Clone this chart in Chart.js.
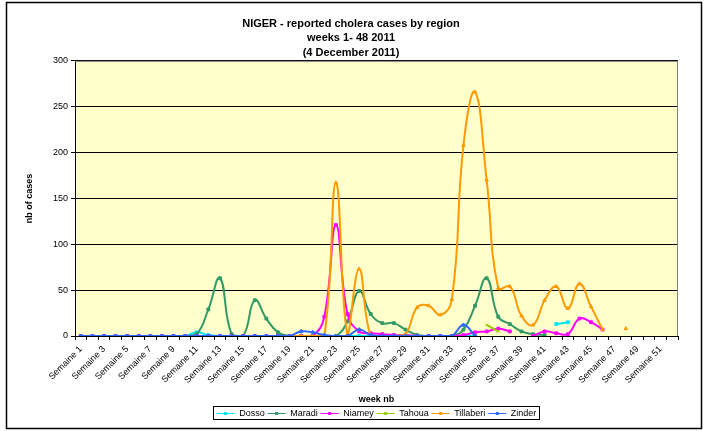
<!DOCTYPE html>
<html>
<head>
<meta charset="utf-8">
<title>NIGER - reported cholera cases by region</title>
<script src="https://cdn.jsdelivr.net/npm/chart.js@4.4.1/dist/chart.umd.min.js"></script>
<style>
  body { margin: 0; background: #fff; }
  #chart { display: block; }
</style>
</head>
<body>
<canvas id="chart" width="708" height="431"></canvas>
<script>
const weeks = ['Semaine 1', 'Semaine 2', 'Semaine 3', 'Semaine 4', 'Semaine 5', 'Semaine 6', 'Semaine 7', 'Semaine 8', 'Semaine 9', 'Semaine 10',
    'Semaine 11', 'Semaine 12', 'Semaine 13', 'Semaine 14', 'Semaine 15', 'Semaine 16', 'Semaine 17', 'Semaine 18', 'Semaine 19', 'Semaine 20',
    'Semaine 21', 'Semaine 22', 'Semaine 23', 'Semaine 24', 'Semaine 25', 'Semaine 26', 'Semaine 27', 'Semaine 28', 'Semaine 29', 'Semaine 30',
    'Semaine 31', 'Semaine 32', 'Semaine 33', 'Semaine 34', 'Semaine 35', 'Semaine 36', 'Semaine 37', 'Semaine 38', 'Semaine 39', 'Semaine 40',
    'Semaine 41', 'Semaine 42', 'Semaine 43', 'Semaine 44', 'Semaine 45', 'Semaine 46', 'Semaine 47', 'Semaine 48', 'Semaine 49', 'Semaine 50',
    'Semaine 51', 'Semaine 52'];

// weekly cases per region (null = no report)
const dosso = [0, 0, 0, 0, 0, 0, 0, 0, 0, 0, 4, 1, 0, 0, 0, 0, 0, 0, 0, 0,
    0, 0, 0, 0, 0, 0, 0, 0, 0, 0, 0, 0, 0, 0, 0, null, null, null, null, null,
    null, 13, 15, null, null, null, null, null, null, null, null, null];
const maradi = [0, 0, 0, 0, 0, 0, 0, 0, 0, 0, 2, 29, 63, 2, 0, 39, 19, 4, 0, 0,
    0, 0, 0, 16, 49, 24, 14, 14, 7, 1, 0, 0, 0, 7, 33, 63, 21, 13, 5, 2,
    1, null, null, null, null, null, null, null, null, null, null, null];
const niamey = [0, 0, 0, 0, 0, 0, 0, 0, 0, 0, 0, 0, 0, 0, 0, 0, 0, 0, 0, 0,
    0, 21, 121, 24, 5, 3, 2, 1, 1, 0, 0, 0, 0, 1, 4, 5, 8, 5, null, 0,
    5, 3, 2, 19, 15, 7, null, null, null, null, null, null];
const tahoua = [null, null, null, null, null, null, null, null, null, null, null, null, null, null, null, null, null, null, null, null,
    null, null, null, null, null, null, null, null, null, null, null, null, null, null, null, 12, 5, null, null, null,
    null, null, null, null, null, null, null, null, null, null, null, null];
const tillaberi = [null, null, null, null, null, null, null, null, null, null, null, null, null, null, null, null, null, null, 0, 0,
    0, 0, 167, 2, 73, 0, 0, 0, 2, 31, 33, 23, 40, 208, 266, 170, 52, 54, 22, 12,
    39, 54, 30, 57, 32, 7, null, 8, null, null, null, null];
const zinder = [0, 0, 0, 0, 0, 0, 0, 0, 0, 0, 0, 0, 0, 0, 0, 0, 0, 0, 0, 5,
    4, 1, 0, 0, 7, 1, 0, 0, 0, 0, 0, 0, 0, 12, 0, null, null, null, null, null,
    null, null, null, null, null, null, null, null, null, null, null, null];

const yTicks = [0, 50, 100, 150, 200, 250, 300];

const fontFamily = "'Liberation Sans', Arial, sans-serif";
Chart.defaults.font.family = fontFamily;
Chart.defaults.color = '#000';

function series(label, data, color, marker, order) {
    return {
        label: label,
        data: data,
        borderColor: color,
        backgroundColor: color,
        borderWidth: 2,
        pointStyle: marker,
        pointRadius: 2,
        pointBorderWidth: 1,
        tension: 0.45,
        fill: false,
        order: order
    };
}

// plot background, plot frame, outer border, legend box + markers
const decor = {
    id: 'decor',
    beforeDraw(chart) {
        const c = chart.ctx, a = chart.chartArea;
        c.save();
        c.fillStyle = '#fff';
        c.fillRect(0, 0, chart.width, chart.height);
        c.fillStyle = '#FFFFCC';
        c.fillRect(a.left, a.top, a.right - a.left, a.bottom - a.top);
        c.restore();
    },
    beforeDatasetsDraw(chart) {
        const c = chart.ctx, a = chart.chartArea;
        c.save();
        c.strokeStyle = '#808080';
        c.lineWidth = 1;
        c.beginPath();
        c.moveTo(a.left, a.top + 0.5);
        c.lineTo(a.right - 0.5, a.top + 0.5);
        c.lineTo(a.right - 0.5, a.bottom);
        c.stroke();
        c.restore();
    },
    afterDraw(chart) {
        const c = chart.ctx;
        c.save();
        c.strokeStyle = '#000';
        c.lineWidth = 1.5;
        c.strokeRect(6.5, 2.5, 695, 426);

        const boxes = chart.legend.legendHitBoxes;
        const items = chart.legend.legendItems;
        if (boxes && boxes.length) {
            let l = Infinity, r = -Infinity, t = Infinity, b = -Infinity;
            boxes.forEach(h => {
                l = Math.min(l, h.left); r = Math.max(r, h.left + h.width);
                t = Math.min(t, h.top); b = Math.max(b, h.top + h.height);
            });
            c.lineWidth = 1;
            c.strokeRect(Math.round(l) - 3.5, Math.round(t) - 2.5, Math.round(r - l) + 6, Math.round(b - t) + 4);
            boxes.forEach((h, i) => {
                const ds = chart.data.datasets[items[i].datasetIndex];
                const x = h.left + 9, y = h.top + h.height / 2;
                c.fillStyle = ds.borderColor;
                c.fillRect(x - 1.5, y - 1.5, 3, 3);
            });
        }
        c.restore();
    }
};

const ctx = document.getElementById('chart');

const myChart = new Chart(ctx, {
    type: 'line',
    data: {
        labels: weeks,
        datasets: [
            series('Dosso', dosso, '#00E5F0', 'rect', 5),
            series('Maradi', maradi, '#339966', 'rect', 4),
            series('Niamey', niamey, '#FF00FF', 'rect', 3),
            series('Tahoua', tahoua, '#99CC00', 'crossRot', 2),
            series('Tillaberi', tillaberi, '#FF9900', 'triangle', 1),
            series('Zinder', zinder, '#3366FF', 'rectRot', 0)
        ]
    },
    options: {
        responsive: false,
        animation: false,
        devicePixelRatio: 1,
        layout: { padding: { left: 24, right: 30, top: 0, bottom: 3 } },
        plugins: {
            title: {
                display: true,
                text: ['NIGER - reported cholera cases by region', 'weeks 1- 48 2011', '(4 December 2011)'],
                font: { size: 11, weight: 'bold', lineHeight: 1.36 },
                color: '#000',
                padding: { top: 16, bottom: 0 }
            },
            legend: {
                position: 'bottom',
                fullSize: false,
                labels: {
                    font: { size: 9 },
                    color: '#000',
                    usePointStyle: true,
                    pointStyle: 'line',
                    pointStyleWidth: 18,
                    padding: 3,
                    sort: (a, b) => a.datasetIndex - b.datasetIndex
                }
            },
            tooltip: { enabled: false }
        },
        scales: {
            x: {
                offset: true,
                grid: { offset: true, drawOnChartArea: false, color: '#000', tickLength: 4 },
                border: { color: '#000', width: 1 },
                ticks: {
                    autoSkip: false,
                    maxRotation: 45,
                    minRotation: 45,
                    font: { size: 9 },
                    color: '#000',
                    padding: 4,
                    callback: function (v, i) { return i % 2 === 0 ? this.getLabelForValue(v) : ''; }
                },
                title: { display: true, text: 'week nb', font: { size: 9, weight: 'bold' }, color: '#000', padding: { top: 0, bottom: 1 } },
                afterFit(s) { s.height = 70; s.paddingLeft = 0; s.paddingRight = 0; }
            },
            y: {
                min: 0,
                max: 300,
                afterBuildTicks(s) { s.ticks = yTicks.map(v => ({ value: v })); },
                grid: { color: '#000', tickLength: 4 },
                border: { color: '#000', width: 1 },
                ticks: { font: { size: 9 }, color: '#000', padding: 3 },
                title: { display: true, text: 'nb of cases', font: { size: 9, weight: 'bold' }, color: '#000', padding: { top: 0, bottom: 0 } },
                afterFit(s) { s.width = 51; }
            }
        }
    },
    plugins: [decor]
});
</script>
</body>
</html>
